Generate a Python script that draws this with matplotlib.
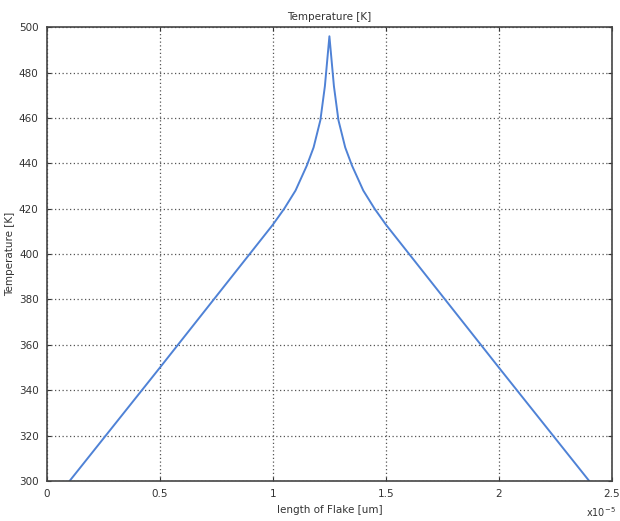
import matplotlib
matplotlib.use("Agg")
import matplotlib.pyplot as plt
import numpy as np

# length of flake (units of 1e-5 m) and temperature [K]
x_vals = [0.10, 0.50, 1.00, 1.05, 1.10, 1.15, 1.18, 1.21, 1.23, 1.24, 1.25,
          1.26, 1.27, 1.29, 1.32, 1.35, 1.40, 1.45, 1.50, 2.00, 2.40]
temp_vals = [300, 350, 413, 420, 428, 439, 447, 459, 474, 485, 496,
             485, 474, 459, 447, 439, 428, 420, 413, 350, 300]

x_ticks = [0, 0.5, 1, 1.5, 2, 2.5]
x_ticklabels = ["0", "0.5", "1", "1.5", "2", "2.5"]
y_ticks = [300, 320, 340, 360, 380, 400, 420, 440, 460, 480, 500]

fig = plt.figure(figsize=(6.2, 5.21), dpi=100)
ax = fig.add_axes([0.0758, 0.0768, 0.911, 0.871])
ax.plot(x_vals, temp_vals, color="#4f82d6", lw=1.4)
ax.set_xlim(0, 2.5)
ax.set_ylim(300, 500)
ax.set_xticks(x_ticks)
ax.set_xticklabels(x_ticklabels)
ax.set_yticks(y_ticks)
ax.grid(True, linestyle=(0, (1, 2)), color="#555555", lw=0.9)
ax.tick_params(direction="in", top=True, right=True, labelsize=7.5,
               colors="#333333", length=3, pad=6)
for s in ax.spines.values():
    s.set_color("#444444")
    s.set_linewidth(1.2)
ax.set_title("Temperature [K]", fontsize=7.5, color="#333333", pad=5)
ax.set_xlabel("length of Flake [um]", fontsize=7.5, color="#333333", labelpad=4)
ax.set_ylabel("Temperature [K]", fontsize=7.5, color="#333333", labelpad=3)
fig.text(0.945, 0.008, r"x10$^{-5}$", fontsize=7, color="#333333")
fig.savefig("out.png", dpi=100)
